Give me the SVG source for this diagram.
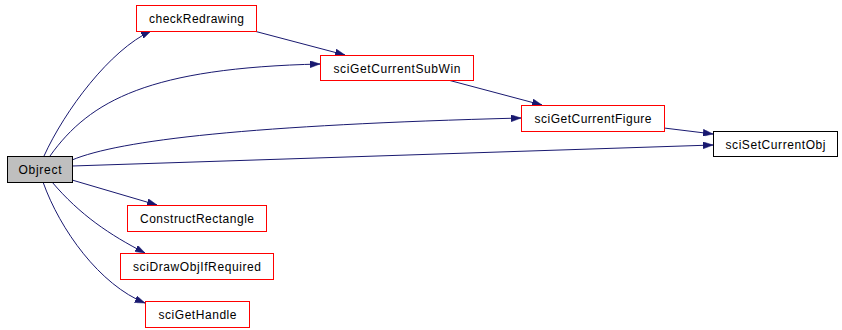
<svg xmlns="http://www.w3.org/2000/svg" width="842" height="330" viewBox="0 0 842 330">
<style>
.n rect{fill:#fff;stroke:#f00;stroke-width:1}
.n.b rect{stroke:#000}
.n.g rect{fill:#bfbfbf;stroke:#000}
.n text{font-family:"Liberation Sans",Arial,sans-serif;font-size:12px;fill:#000;text-anchor:middle}
.e path{fill:none;stroke:#191970;stroke-width:1;marker-end:url(#ah)}
</style>
<defs>
<marker id="ah" viewBox="0 0 10 7" refX="10" refY="3.5" markerWidth="10" markerHeight="7" markerUnits="userSpaceOnUse" orient="auto">
<path d="M0,0 L10,3.5 L0,7 z" fill="#191970" stroke="#191970" stroke-width="0.5"/>
</marker>
</defs>
<rect width="842" height="330" fill="#fff"/>
<g class="e" id="edges">
<path d="M44,156 C65,110 110,50 151,31"/>
<path d="M50,156 C90,100 150,68 320,64"/>
<path d="M254,31 L345,55"/>
<path d="M448,80 L542,105"/>
<path d="M72,160 C120,140 250,125 521,118"/>
<path d="M72,166 L713,145"/>
<path d="M664,128 L713,134"/>
<path d="M72,180 L157,205"/>
<path d="M52,182 C80,215 110,235 145,253"/>
<path d="M43,182 C60,230 100,285 145,303"/>
</g>
<g class="n" id="checkRedrawing"><rect x="136.5" y="5.5" width="120" height="26"/><text x="196.5" y="23" textLength="95" lengthAdjust="spacing">checkRedrawing</text></g>
<g class="n" id="sciGetCurrentSubWin"><rect x="320.5" y="55.5" width="153" height="25"/><text x="397" y="72.5" textLength="127" lengthAdjust="spacing">sciGetCurrentSubWin</text></g>
<g class="n g" id="Objrect"><rect x="7.5" y="156.5" width="65" height="26"/><text x="40" y="174" textLength="43" lengthAdjust="spacing">Objrect</text></g>
<g class="n" id="sciGetCurrentFigure"><rect x="521.5" y="105.5" width="143" height="26"/><text x="593" y="123" textLength="117" lengthAdjust="spacing">sciGetCurrentFigure</text></g>
<g class="n b" id="sciSetCurrentObj"><rect x="713.5" y="131.5" width="124" height="25"/><text x="775.5" y="148.5" textLength="100" lengthAdjust="spacing">sciSetCurrentObj</text></g>
<g class="n" id="ConstructRectangle"><rect x="127.5" y="205.5" width="139" height="26"/><text x="197" y="223" textLength="114" lengthAdjust="spacing">ConstructRectangle</text></g>
<g class="n" id="sciDrawObjIfRequired"><rect x="120.5" y="253.5" width="153" height="26"/><text x="197" y="271" textLength="128" lengthAdjust="spacing">sciDrawObjIfRequired</text></g>
<g class="n" id="sciGetHandle"><rect x="145.5" y="301.5" width="104" height="26"/><text x="197.5" y="319" textLength="78" lengthAdjust="spacing">sciGetHandle</text></g>
</svg>
